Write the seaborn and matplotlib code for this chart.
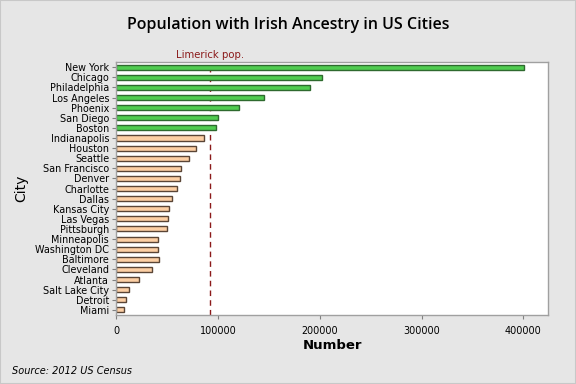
import matplotlib
matplotlib.use("Agg")
import matplotlib.pyplot as plt
import seaborn as sns
import pandas as pd

cities = ["New York", "Chicago", "Philadelphia", "Los Angeles", "Phoenix", "San Diego",
          "Boston", "Indianapolis", "Houston", "Seattle", "San Francisco", "Denver",
          "Charlotte", "Dallas", "Kansas City", "Las Vegas", "Pittsburgh", "Minneapolis",
          "Washington DC", "Baltimore", "Cleveland", "Atlanta", "Salt Lake City",
          "Detroit", "Miami"]
irish_pop = [400500, 202700, 190100, 145000, 121200, 100600, 97700, 86500, 79000,
             71200, 64300, 63300, 59400, 54500, 52500, 50600, 49600, 41700, 41700,
             41900, 34900, 22100, 12300, 10300, 7400]
groups = ["Above"] * 7 + ["Below"] * 18
limerick_pop = 92300
x_ticks = [0, 100000, 200000, 300000, 400000]

df = pd.DataFrame({"City": cities, "Number": irish_pop, "Group": groups})

sns.set_theme(style="white")
plt.rcParams["font.family"] = ["DejaVu Sans"]
plt.rcParams["text.color"] = "black"
plt.rcParams["axes.labelcolor"] = "black"
plt.rcParams["xtick.color"] = "black"
plt.rcParams["ytick.color"] = "black"

fig = plt.figure(figsize=(5.76, 3.84), dpi=100, facecolor="#E6E6E6")
ax = fig.add_axes([0.2014, 0.180, 0.7506, 0.658])

palette = {"Above": "#50CC50", "Below": "#FCCFA4"}
sns.barplot(data=df, x="Number", y="City", hue="Group", palette=palette,
            dodge=False, orient="h", width=0.5, legend=False, ax=ax, saturation=1)

edge = {"Above": "#2E6A2E", "Below": "#5A4536"}
for patch, g in zip(ax.patches, groups):
    patch.set_edgecolor(edge[g])
    patch.set_linewidth(1.0)

ax.axvline(limerick_pop, color="#8B1A1A", linestyle=(0, (4, 3)), linewidth=1.0, zorder=0.5)
ax.text(limerick_pop, 1.008, "Limerick pop.", transform=ax.get_xaxis_transform(),
        ha="center", va="bottom", color="#8B1A1A", fontsize=7.3)

ax.set_xlim(0, 424500)
ax.set_ylim(24.5, -0.5)
ax.set_xticks(x_ticks)
ax.set_xticklabels([str(t) for t in x_ticks])
ax.tick_params(axis="both", which="both", labelsize=6.9, length=3, width=0.8,
               color="#808080", labelcolor="black", pad=2, bottom=True, left=True)
ax.tick_params(axis="x", pad=5)
for s in ax.spines.values():
    s.set_color("#A0A0A0")
    s.set_linewidth(1.0)
ax.set_facecolor("white")

ax.set_xlabel("Number", fontsize=9.5, fontweight="bold", labelpad=2)
ax.set_ylabel("City", fontsize=10, labelpad=5)

fig.text(0.5, 0.935, "Population with Irish Ancestry in US Cities", ha="center",
         va="center", fontsize=11.5, fontweight="semibold",
         family=["Open Sans", "DejaVu Sans"])
fig.text(0.021, 0.035, "Source: 2012 US Census", ha="left", va="center",
         fontsize=7, style="italic")

fig.patches.append(plt.Rectangle((0, 0), 1, 1, transform=fig.transFigure, fill=False,
                                 edgecolor="#C8C8C8", linewidth=1.5))

fig.savefig("out.png", dpi=100, facecolor=fig.get_facecolor())
